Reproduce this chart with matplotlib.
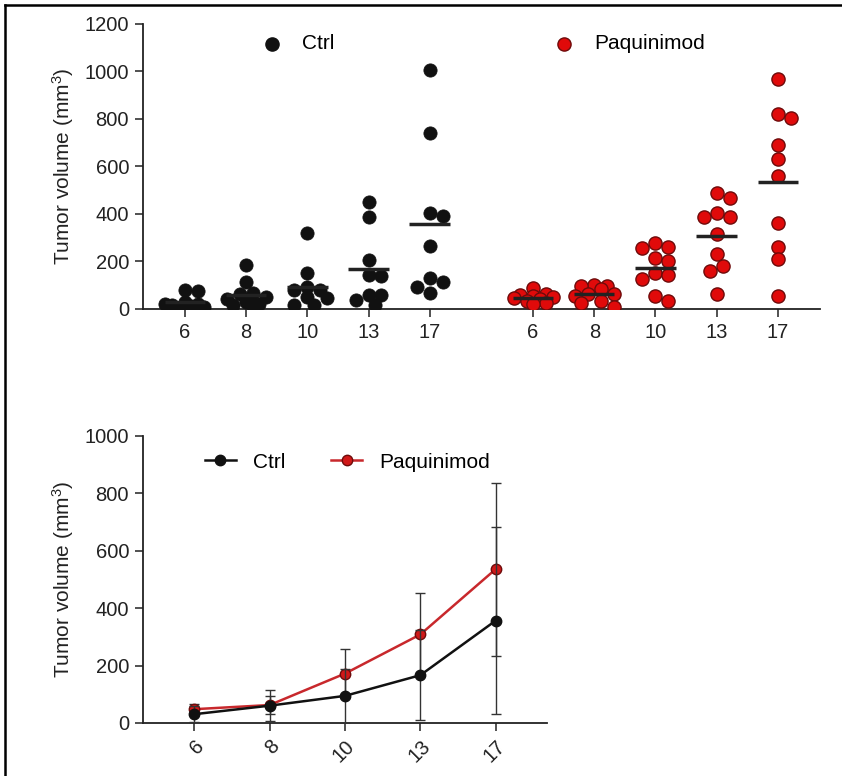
import numpy as np
import matplotlib.pyplot as plt
from matplotlib.lines import Line2D

plt.rcParams['font.family'] = ['Liberation Sans', 'DejaVu Sans']
plt.rcParams['mathtext.default'] = 'regular'

days = ['6', '8', '10', '13', '17']

# tumour volumes per mouse (mm^3)
ctrl_d6 = [82, 76, 28, 22, 18, 14, 10, 6, 20]
ctrl_d8 = [185, 115, 68, 62, 50, 42, 28, 22, 18, 14]
ctrl_d10 = [320, 150, 93, 82, 78, 50, 46, 17, 15]
ctrl_d13 = [450, 388, 206, 143, 140, 59, 59, 38, 17]
ctrl_d17 = [1006, 741, 404, 392, 265, 130, 114, 93, 67]

paq_d6 = [88, 63, 58, 55, 52, 46, 40, 33, 25, 21]
paq_d8 = [102, 97, 95, 84, 63, 63, 55, 34, 25, 8]
paq_d10 = [278, 261, 257, 215, 202, 151, 143, 126, 55, 34]
paq_d13 = [488, 467, 404, 388, 388, 316, 231, 181, 160, 63]
paq_d17 = [968, 821, 804, 690, 632, 560, 362, 261, 210, 55]

ctrl = [ctrl_d6, ctrl_d8, ctrl_d10, ctrl_d13, ctrl_d17]
paq = [paq_d6, paq_d8, paq_d10, paq_d13, paq_d17]

red = '#e00a0a'
red_edge = '#6e0b0b'
red_line = '#c8282c'
dark = '#111111'
FS = 15


def swarm(vals, px_x, px_y, step=6.5, mind=12.0, kmax=3):
    # beeswarm limited to a few slots each side; if nothing is free,
    # take the slot with the least overlap
    placed = []
    offs = []
    slots = [0]
    for k in range(1, kmax + 1):
        slots += [k, -k]
    for v in vals:
        best, best_d = 0, -1
        for s in slots:
            ox = s * step
            d = min([np.hypot(ox - px, (v - py) * px_y) for (px, py) in placed] + [1e9])
            if d >= mind:
                best = ox
                break
            if d > best_d:
                best, best_d = ox, d
        placed.append((best, v))
        offs.append(best / px_x)
    return np.array(offs)


fig = plt.figure(figsize=(8.42, 7.76), dpi=100)

# border of the panel (left and top only are visible)
fig.add_artist(Line2D([5 / 842, 5 / 842], [0, 1 - 5 / 776], color='black', lw=1.8))
fig.add_artist(Line2D([5 / 842, 1], [1 - 5 / 776, 1 - 5 / 776], color='black', lw=1.8))

# ---------- top: dot plot ----------
ax1 = fig.add_axes([143 / 842, 1 - 309 / 776, 677 / 842, 285 / 776])
px_x = 61.2
px_y = 285 / 1200
pos_ctrl = np.arange(5)
pos_paq = np.arange(5) + 5.69

for i in range(5):
    v = np.array(ctrl[i])
    ax1.scatter(pos_ctrl[i] + swarm(v, px_x, px_y), v, s=90, color=dark,
                edgecolor=dark, linewidth=0.6, zorder=3)
    ax1.hlines(v.mean(), pos_ctrl[i] - 0.33, pos_ctrl[i] + 0.33, color='#222222', lw=2.5, zorder=4)
    v = np.array(paq[i])
    ax1.scatter(pos_paq[i] + swarm(v, px_x, px_y), v, s=90, color=red,
                edgecolor=red_edge, linewidth=1.0, zorder=3)
    ax1.hlines(v.mean(), pos_paq[i] - 0.33, pos_paq[i] + 0.33, color='#222222', lw=2.5, zorder=4)

ax1.set_xlim(-0.686, 10.38)
ax1.set_ylim(0, 1200)
ax1.set_yticks([0, 200, 400, 600, 800, 1000, 1200])
ax1.set_xticks(list(pos_ctrl) + list(pos_paq))
ax1.set_xticklabels(days + days)
ax1.set_ylabel('Tumor volume (mm$^3$)', fontsize=FS, color='#222222', labelpad=6)

h1 = ax1.scatter([], [], s=90, color=dark)
h2 = ax1.scatter([], [], s=90, color=red, edgecolor=red_edge, linewidth=1.0)
ax1.legend([h1, h2], ['Ctrl', 'Paquinimod'], ncol=2, loc='center left',
           bbox_to_anchor=(0.176, 0.93), frameon=False, fontsize=FS,
           handlelength=0.9, handletextpad=1.0, columnspacing=10.6,
           borderpad=0, borderaxespad=0, scatterpoints=1)

# ---------- bottom: mean +/- SD ----------
ax2 = fig.add_axes([143 / 842, 1 - 723 / 776, 404 / 842, 287 / 776])
xs = np.arange(5)
ctrl_mean = [np.mean(v) for v in ctrl]
ctrl_sd = [np.std(v, ddof=1) for v in ctrl]
paq_mean = [np.mean(v) for v in paq]
paq_sd = [np.std(v, ddof=1) for v in paq]

ax2.errorbar(xs, paq_mean, yerr=paq_sd, color=red_line, lw=1.8, marker='o', ms=7.5,
             mfc='#d01818', mec=red_edge, mew=1.0, ecolor='#333333', elinewidth=1.0,
             capsize=3.8, capthick=1.0, label='Paquinimod', zorder=3)
ax2.errorbar(xs, ctrl_mean, yerr=ctrl_sd, color=dark, lw=1.8, marker='o', ms=7.5,
             mfc=dark, mec=dark, ecolor='#333333', elinewidth=1.0,
             capsize=3.8, capthick=1.0, label='Ctrl', zorder=4)

ax2.set_xlim(-0.68, 4.68)
ax2.set_ylim(0, 1000)
ax2.set_yticks([0, 200, 400, 600, 800, 1000])
ax2.set_xticks(xs)
ax2.set_xticklabels(days, rotation=45, ha='right', rotation_mode='anchor')
ax2.set_ylabel('Tumor volume (mm$^3$)', fontsize=FS, color='#222222', labelpad=6)

hc = Line2D([], [], color=dark, lw=1.8, marker='o', ms=7.5)
hp = Line2D([], [], color=red_line, lw=1.8, marker='o', ms=7.5, mfc='#d01818', mec=red_edge)
ax2.legend([hc, hp], ['Ctrl', 'Paquinimod'], ncol=2, loc='center left',
           bbox_to_anchor=(0.153, 0.909), frameon=False, fontsize=FS,
           handlelength=1.5, handletextpad=0.8, columnspacing=2.2,
           borderpad=0, borderaxespad=0)

for ax in (ax1, ax2):
    for side in ('top', 'right'):
        ax.spines[side].set_visible(False)
    for side in ('left', 'bottom'):
        ax.spines[side].set_linewidth(1.3)
        ax.spines[side].set_color('#222222')
    ax.tick_params(direction='out', length=6, width=1.2, color='#333333',
                   labelsize=14.5, labelcolor='#222222', pad=4)

fig.savefig('out.png', dpi=100)
